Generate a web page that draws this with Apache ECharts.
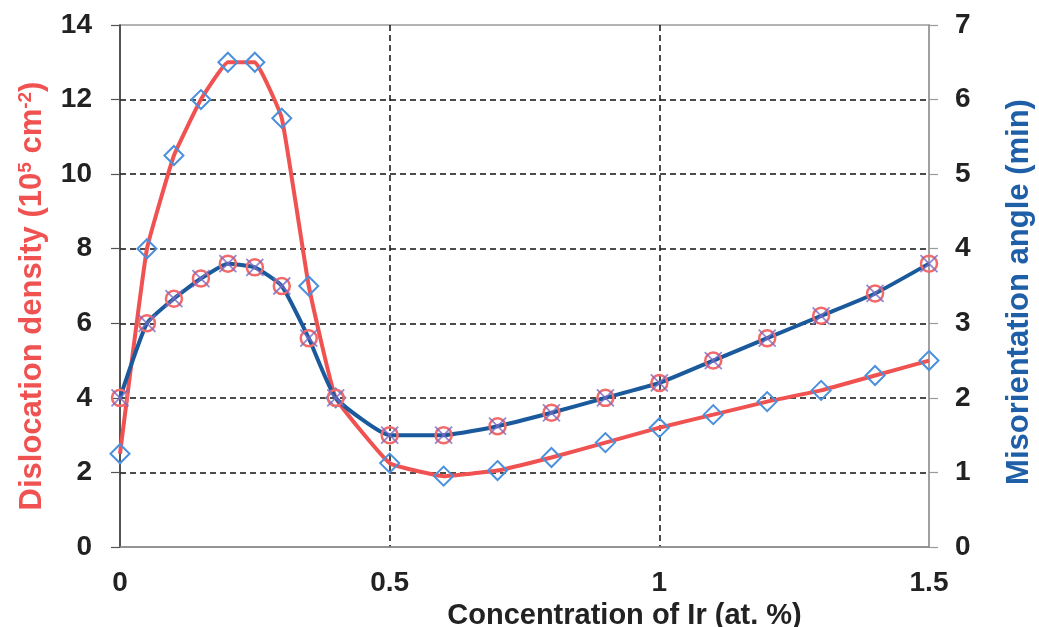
<!DOCTYPE html>
<html>
<head>
<meta charset="utf-8">
<script src="https://cdn.jsdelivr.net/npm/echarts@6/dist/echarts.min.js"></script>
<style>
  html, body { margin: 0; padding: 0; background: #fff; }
  #chart { width: 1039px; height: 627px; }
</style>
</head>
<body>
<div id="chart"></div>
<script>
// 数据：Ir 浓度（at.%）
const concentration = [0, 0.05, 0.1, 0.15, 0.2, 0.25, 0.3, 0.35, 0.4, 0.5, 0.6, 0.7, 0.8, 0.9, 1.0, 1.1, 1.2, 1.3, 1.4, 1.5];
// 位错密度 (10^5 cm^-2)，左轴
const dislocationDensity = [2.5, 8.0, 10.5, 12.0, 13.0, 13.0, 11.5, 7.0, 4.0, 2.25, 1.9, 2.05, 2.4, 2.8, 3.2, 3.55, 3.9, 4.2, 4.6, 5.0];
// 取向差角 (min)，右轴
const misorientation = [2.0, 3.0, 3.33, 3.6, 3.8, 3.75, 3.5, 2.8, 2.0, 1.5, 1.5, 1.62, 1.8, 2.0, 2.2, 2.5, 2.8, 3.1, 3.4, 3.8];
// 刻度标签
const xTicks = ['0', '0.5', '1', '1.5'];
const leftTicks = [0, 2, 4, 6, 8, 10, 12, 14];
const rightTicks = [0, 1, 2, 3, 4, 5, 6, 7];

const font = "'Liberation Sans', Arial, Helvetica, sans-serif";
const red = '#f05252';
const blue = '#1a5a9c';

const densityPoints = concentration.map((c, i) => [c, dislocationDensity[i]]);
const anglePoints = concentration.map((c, i) => [c, misorientation[i]]);

const chart = echarts.init(document.getElementById('chart'));

const option = {
  animation: false,
  grid: {
    left: 120,
    right: 110,
    top: 25,
    bottom: 80,
    outerBoundsMode: 'none',
    show: true,
    borderColor: '#9a9a9a',
    borderWidth: 1.5
  },
  xAxis: {
    type: 'value',
    min: 0,
    max: 1.5,
    interval: 0.5,
    name: 'Concentration of Ir (at. %)',
    nameLocation: 'middle',
    nameGap: 44,
    nameTextStyle: {
      fontFamily: font, fontWeight: 'bold', fontSize: 29, color: '#222',
      padding: [0, 0, 0, 200]
    },
    axisLine: { lineStyle: { color: '#8a8a8a', width: 1.5 } },
    axisTick: { show: false },
    axisLabel: {
      margin: 22,
      fontFamily: font, fontWeight: 'bold', fontSize: 28, color: '#222',
      formatter: v => xTicks[Math.round(v / 0.5)]
    },
    splitLine: {
      show: true,
      showMinLine: false,
      showMaxLine: false,
      lineStyle: { color: '#111', type: [6, 4], width: 1.5 }
    }
  },
  yAxis: [
    {
      type: 'value',
      min: leftTicks[0],
      max: leftTicks[leftTicks.length - 1],
      interval: 2,
      position: 'left',
      name: 'Dislocation density (10{sup|5} cm{sup|-2})',
      nameLocation: 'middle',
      nameRotate: 90,
      nameGap: 72,
      nameTextStyle: {
        fontFamily: font, fontWeight: 'bold', fontSize: 31, color: red,
        padding: [0, 20, 0, 0],
        rich: {
          sup: { fontFamily: font, fontWeight: 'bold', fontSize: 19, color: red, verticalAlign: 'top', padding: [0, 0, 13, 0] }
        }
      },
      axisLine: { show: true, lineStyle: { color: '#333', width: 1.5 } },
      axisTick: { show: true, length: 9, lineStyle: { color: '#555', width: 1.2 } },
      axisLabel: { margin: 28, fontFamily: font, fontWeight: 'bold', fontSize: 28, color: '#222' },
      splitLine: {
        show: true,
        showMinLine: false,
        showMaxLine: false,
        lineStyle: { color: '#111', type: [6, 4], width: 1.5 }
      }
    },
    {
      type: 'value',
      min: rightTicks[0],
      max: rightTicks[rightTicks.length - 1],
      interval: 1,
      position: 'right',
      name: 'Misorientation angle (min)',
      nameLocation: 'middle',
      nameRotate: 90,
      nameGap: 75,
      nameTextStyle: {
        fontFamily: font, fontWeight: 'bold', fontSize: 31, color: '#1f5fa8',
        padding: [0, 12, 0, 0]
      },
      axisLine: { show: true, lineStyle: { color: '#9a9a9a', width: 1.5 } },
      axisTick: { show: true, length: 9, lineStyle: { color: '#9a9a9a', width: 1.2 } },
      axisLabel: { margin: 26, fontFamily: font, fontWeight: 'bold', fontSize: 28, color: '#222' },
      splitLine: { show: false }
    }
  ],
  series: [
    {
      name: 'Dislocation density',
      type: 'line',
      yAxisIndex: 0,
      data: densityPoints,
      smooth: 0.1,
      lineStyle: { color: red, width: 4 },
      symbol: 'diamond',
      symbolSize: 19,
      itemStyle: { color: 'rgba(0,0,0,0)', borderColor: '#4a90dc', borderWidth: 2 },
      z: 2
    },
    {
      name: 'Misorientation angle',
      type: 'line',
      yAxisIndex: 1,
      data: anglePoints,
      smooth: 0.15,
      lineStyle: { color: blue, width: 4 },
      symbol: 'circle',
      symbolSize: 16,
      itemStyle: { color: 'rgba(0,0,0,0)', borderColor: '#f26a6a', borderWidth: 2.5 },
      z: 3
    },
    {
      // 取向差角数据点上的紫色 ×
      name: 'Misorientation marks',
      type: 'scatter',
      yAxisIndex: 1,
      data: anglePoints,
      symbol: 'path://M0,0L10,10M10,0L0,10',
      symbolSize: 17,
      itemStyle: { color: 'rgba(0,0,0,0)', borderColor: '#7a6cc6', borderWidth: 1.8 },
      z: 4
    }
  ]
};

chart.setOption(option);
window.addEventListener('resize', () => chart.resize());
</script>
</body>
</html>
